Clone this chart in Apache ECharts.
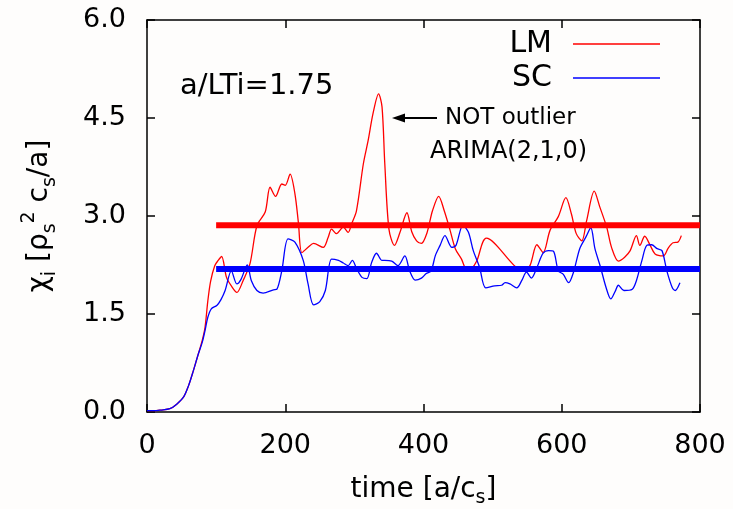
<!DOCTYPE html>
<html><head><meta charset="utf-8">
<script src="https://cdn.jsdelivr.net/npm/echarts@6/dist/echarts.min.js"></script>
<style>html,body{margin:0;padding:0;background:#fefdfc;}#c{width:733px;height:509px;}</style>
</head><body><div id="c"></div>
<script>
// ---- data ----
const lmTime = [
  0, 10, 20, 33, 43, 53, 60, 67, 74, 80,
  84, 88, 92, 98, 103, 108, 115, 122, 130, 139,
  149, 159, 171, 178, 186, 195, 200, 207, 214, 219,
  224, 233, 241, 255, 262, 267, 274, 284, 291, 296,
  303, 313, 320, 327, 335, 340, 344, 350, 358, 366,
  376, 383, 390, 397, 405, 413, 422, 430, 438, 446,
  455, 463, 470, 477, 491, 545, 554, 564, 573, 583,
  595, 606, 614, 621, 629, 636, 647, 655, 665, 672,
  682, 691, 699, 708, 713, 720, 728, 735, 747, 754,
  761, 768, 773
];
const lmValue = [
  0.02, 0.02, 0.03, 0.05, 0.12, 0.23, 0.40, 0.63, 0.88, 1.10,
  1.30, 1.70, 2.00, 2.24, 2.32, 2.38, 2.06, 1.93, 1.83, 2.01,
  2.27, 2.85, 3.06, 3.44, 3.30, 3.49, 3.47, 3.64, 3.34, 2.90,
  2.44, 2.52, 2.58, 2.52, 2.67, 2.80, 2.73, 2.83, 2.75, 2.88,
  3.08, 3.80, 4.16, 4.57, 4.87, 4.67, 3.80, 2.80, 2.55, 2.75,
  3.05, 2.76, 2.62, 2.58, 2.74, 3.08, 3.30, 3.08, 2.80, 2.50,
  2.34, 2.17, 2.20, 2.31, 2.66, 2.16, 2.24, 2.56, 2.44, 2.78,
  2.99, 3.28, 3.03, 2.73, 2.62, 2.93, 3.38, 3.14, 2.83, 2.52,
  2.31, 2.37, 2.47, 2.70, 2.55, 2.69, 2.55, 2.42, 2.39, 2.51,
  2.59, 2.60, 2.70
];
const scTime = [
  0, 10, 20, 33, 43, 53, 60, 67, 74, 80,
  84, 88, 93, 101, 107, 113, 122, 130, 136, 145,
  151, 159, 168, 183, 188, 195, 204, 214, 226, 233,
  241, 250, 258, 267, 277, 284, 291, 297, 303, 311,
  318, 325, 332, 340, 344, 354, 363, 373, 380, 388,
  397, 404, 411, 417, 424, 431, 441, 447, 457, 465,
  472, 481, 490, 503, 513, 518, 525, 535, 542, 549,
  556, 564, 573, 581, 588, 595, 602, 610, 617, 626,
  635, 642, 648, 656, 664, 671, 677, 682, 690, 702,
  708, 716, 723, 730, 738, 745, 752, 760, 764, 771
];
const scValue = [
  0.02, 0.02, 0.03, 0.05, 0.12, 0.23, 0.40, 0.63, 0.88, 1.07,
  1.25, 1.45, 1.58, 1.63, 1.72, 1.86, 2.16, 1.96, 2.03, 2.25,
  2.01, 1.86, 1.82, 1.87, 1.88, 2.16, 2.65, 2.60, 2.32, 1.96,
  1.64, 1.69, 1.86, 2.34, 2.32, 2.28, 2.24, 2.32, 2.20, 2.06,
  2.04, 2.29, 2.43, 2.32, 2.32, 2.31, 2.24, 2.39, 2.16, 2.02,
  2.05, 2.12, 2.16, 2.39, 2.55, 2.70, 2.52, 2.55, 2.86, 2.75,
  2.47, 2.22, 1.90, 1.93, 1.94, 1.98, 1.96, 1.90, 2.01, 2.14,
  2.05, 2.21, 2.43, 2.47, 2.46, 2.16, 2.11, 1.98, 2.14, 2.50,
  2.68, 2.82, 2.50, 2.22, 1.91, 1.73, 1.84, 1.94, 1.86, 1.88,
  2.01, 2.32, 2.55, 2.56, 2.50, 2.47, 2.16, 1.90, 1.86, 1.98
];
const meanTime = [100, 800];
const lmMean = 2.86;
const scMean = 2.19;
const xTicks = [0, 200, 400, 600, 800];
const yTicks = [0, 1.5, 3.0, 4.5, 6.0];
const seriesNames = ['LM', 'SC'];

// ---- chart ----
const FONT = 'DejaVu Sans';
const pairs = (t, v) => t.map((x, i) => [x, v[i]]);
const chart = echarts.init(document.getElementById('c'), null, {renderer: 'canvas'});
const tickStyle = {show: true, inside: true, length: 8, lineStyle: {color: '#000', width: 1.5}};
const lineStyleAx = {show: true, onZero: false, lineStyle: {color: '#000', width: 1.5}};
chart.setOption({
  backgroundColor: '#fefdfc',
  animation: false,
  grid: {left: 147, right: 33, top: 20, bottom: 97, containLabel: false, outerBoundsMode: 'none'},
  xAxis: [{
    type: 'value', min: xTicks[0], max: xTicks[xTicks.length - 1], interval: xTicks[1] - xTicks[0],
    axisLine: lineStyleAx, axisTick: tickStyle, splitLine: {show: false},
    axisLabel: {margin: 20, fontSize: 27, fontFamily: FONT, color: '#000'},
    name: '{a|time [a/c}{s|s}{a|]}', nameLocation: 'middle', nameGap: 60,
    nameTextStyle: {rich: {
      a: {fontSize: 28, fontFamily: FONT, color: '#000', lineHeight: 36},
      s: {fontSize: 19, fontFamily: FONT, color: '#000', lineHeight: 19, verticalAlign: 'bottom'}
    }}
  }, {
    type: 'value', position: 'top', min: xTicks[0], max: xTicks[xTicks.length - 1], interval: xTicks[1] - xTicks[0],
    axisLine: lineStyleAx, axisTick: tickStyle, axisLabel: {show: false}, splitLine: {show: false}
  }],
  yAxis: [{
    type: 'value', min: yTicks[0], max: yTicks[yTicks.length - 1], interval: yTicks[1] - yTicks[0],
    axisLine: lineStyleAx, axisTick: tickStyle, splitLine: {show: false},
    axisLabel: {margin: 21, fontSize: 27, fontFamily: FONT, color: '#000', formatter: v => v.toFixed(1)},
    name: '{a|χ}{s|i}{a| [ρ}{s|s}{p|2}{a| c}{s|s}{a|/a]}', nameLocation: 'middle', nameGap: 87,
    nameTextStyle: {rich: {
      a: {fontSize: 28, fontFamily: FONT, color: '#000', lineHeight: 40},
      s: {fontSize: 19, fontFamily: FONT, color: '#000', lineHeight: 19, verticalAlign: 'bottom'},
      p: {fontSize: 19, fontFamily: FONT, color: '#000', lineHeight: 19, verticalAlign: 'top'}
    }}
  }, {
    type: 'value', position: 'right', min: yTicks[0], max: yTicks[yTicks.length - 1], interval: yTicks[1] - yTicks[0],
    axisLine: lineStyleAx, axisTick: tickStyle, axisLabel: {show: false}, splitLine: {show: false}
  }],
  legend: {
    data: seriesNames, orient: 'vertical', right: 68, top: 24, align: 'right',
    icon: 'rect', itemWidth: 87, itemHeight: 1.5, itemGap: 4, selectedMode: false,
    textStyle: {fontSize: 30, fontFamily: FONT, color: '#000', padding: [0, 16, 0, 0]}
  },
  series: [
    {name: seriesNames[0], type: 'line', data: pairs(lmTime, lmValue), showSymbol: false, symbol: 'none',
     smooth: 0.3, lineStyle: {color: '#ff0000', width: 1.3}, itemStyle: {color: '#ff0000'}, z: 2},
    {name: seriesNames[1], type: 'line', data: pairs(scTime, scValue), showSymbol: false, symbol: 'none',
     smooth: 0.3, lineStyle: {color: '#0000ff', width: 1.3}, itemStyle: {color: '#0000ff'}, z: 2},
    {name: 'LM mean', type: 'line', data: meanTime.map(t => [t, lmMean]), showSymbol: false, symbol: 'none',
     lineStyle: {color: '#ff0000', width: 6, cap: 'butt'}, z: 3, silent: true},
    {name: 'SC mean', type: 'line', data: meanTime.map(t => [t, scMean]), showSymbol: false, symbol: 'none',
     lineStyle: {color: '#0000ff', width: 6, cap: 'butt'}, z: 3, silent: true}
  ],
  graphic: [
    {type: 'text', style: {x: 180, y: 86, text: 'a/LTi=1.75', font: '29px "DejaVu Sans"', fill: '#000', verticalAlign: 'middle'}},
    {type: 'line', shape: {x1: 437, y1: 118, x2: 400, y2: 118}, style: {stroke: '#000', lineWidth: 2}},
    {type: 'polygon', shape: {points: [[392, 118], [405, 113.5], [405, 122.5]]}, style: {fill: '#000'}},
    {type: 'text', style: {x: 445, y: 118, text: 'NOT outlier', font: '23px "DejaVu Sans"', fill: '#000', verticalAlign: 'middle'}},
    {type: 'text', style: {x: 430, y: 152, text: 'ARIMA(2,1,0)', font: '24px "DejaVu Sans"', fill: '#000', verticalAlign: 'middle'}}
  ]
});
</script></body></html>
